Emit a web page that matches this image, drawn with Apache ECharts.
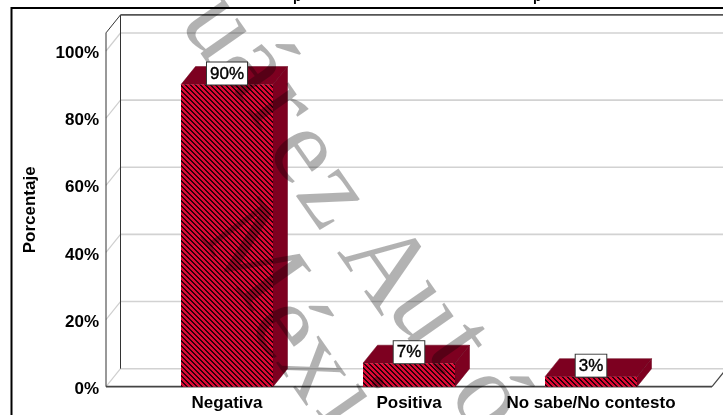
<!DOCTYPE html>
<html>
<head>
<meta charset="utf-8">
<style>html,body{margin:0;padding:0;background:#fff}#chart{width:723px;height:415px}</style>
<script src="https://cdn.jsdelivr.net/npm/echarts@6/dist/echarts.min.js"></script>
</head>
<body>
<div id="chart"></div>
<script>
// Survey shares, in percent
const categories = ['Negativa', 'Positiva', 'No sabe/No contesto'];
const values = [90, 7, 3];
const ticks = [0, 20, 40, 60, 80, 100];
const wallTopValue = 105.4;

// Pseudo-3D box geometry, in pixels
const depthX = 14.5, depthY = -18, barWidth = 92;
const wallLeft = 106, wallRight = 712, pageRight = 730;

// Hatched front face of the bars
const tile = document.createElement('canvas');
tile.width = tile.height = 5;
const tc = tile.getContext('2d');
for (let y = 0; y < 5; y++) for (let x = 0; x < 5; x++) {
  tc.fillStyle = ((x - y + 5) % 5) < 2 ? '#2a000c' : '#dc0a34';
  tc.fillRect(x, y, 1, 1);
}
const hatch = { image: tile, repeat: 'repeat' };

const line = (x1, y1, x2, y2, stroke, lineWidth) => ({
  type: 'line', shape: { x1, y1, x2, y2 }, style: { stroke, lineWidth }
});

// Back-wall gridline plus its diagonal on the side wall
function renderGridline(params, api) {
  const y = api.coord([0, api.value(0)])[1];
  const bottom = api.value(0) === 0;
  const children = [
    line(wallLeft + depthX, y + depthY, pageRight, y + depthY, '#d2d2d2', 1.6),
    line(wallLeft, y, wallLeft + depthX, y + depthY, '#cfcfcf', 1.2)
  ];
  if (bottom) {
    children.push(line(wallRight, y, wallRight + depthX, y + depthY, '#444', 1.2));
  }
  return { type: 'group', children };
}

// Wall outline and floor front edge
function renderWalls(params, api) {
  const top = api.coord([0, api.value(0)])[1];
  const base = api.coord([0, 0])[1];
  return {
    type: 'group',
    children: [
      line(wallLeft, top, wallLeft, base, '#333', 1),
      line(wallLeft + depthX, top + depthY, wallLeft + depthX, base + depthY, '#333', 1),
      line(wallLeft, top, wallLeft + depthX, top + depthY, '#333', 1),
      line(wallLeft + depthX, top + depthY, pageRight, top + depthY, '#555', 1.8),
      line(wallLeft, base, wallRight, base, '#444', 1.8)
    ]
  };
}

function renderBar(params, api) {
  const c = api.coord([api.value(0), api.value(1)]);
  const base = api.coord([0, 0])[1];
  const l = c[0] - barWidth / 2, r = c[0] + barWidth / 2, t = c[1];
  return {
    type: 'group',
    children: [
      { type: 'polygon', shape: { points: [[l, t], [l + depthX, t + depthY], [r + depthX, t + depthY], [r, t]] },
        style: { fill: '#7d0020', stroke: '#6a001a', lineWidth: 0.5 } },
      { type: 'polygon', shape: { points: [[r, t], [r + depthX, t + depthY], [r + depthX, base + depthY], [r, base]] },
        style: { fill: '#7d0020', stroke: '#6a001a', lineWidth: 0.5 } },
      { type: 'rect', shape: { x: l, y: t, width: barWidth, height: base - t },
        style: { fill: hatch } }
    ]
  };
}

function renderValueLabel(params, api) {
  const c = api.coord([api.value(0), api.value(1)]);
  return {
    type: 'text', x: c[0], y: c[1],
    style: {
      text: api.value(1) + '%', font: '17px "Liberation Sans"', fill: '#000',
      stroke: '#000', lineWidth: 0.4,
      align: 'center', verticalAlign: 'bottom',
      backgroundColor: '#fff', borderColor: '#333', borderWidth: 1, padding: [3, 3, 2, 3]
    }
  };
}

// Diagonal institutional stamp laid across the chart
const stampFont = '110px "Liberation Serif"';
const stampAngle = -55 * Math.PI / 180;
const stampGlyphs = [
  ['J', 165, -20], ['u', 218, 28], ['á', 253, 68], ['r', 280, 108], ['e', 303, 153], ['z', 332, 197],
  ['A', 383, 268], ['u', 425, 313], ['t', 457, 347], ['ó', 487, 400],
  ['M', 250, 258], ['é', 285, 328], ['x', 315, 368], ['i', 347, 405], ['c', 385, 445]
];
const stamp = stampGlyphs.map(([text, x, y]) => ({
  type: 'text', x, y, rotation: stampAngle, z: 5, silent: true,
  style: { text, font: stampFont, fill: '#000', opacity: 0.3, align: 'center', verticalAlign: 'middle' }
}));

// Title sits above the visible area, only its descenders reach it
const titleTail = [[293, -10], [533, -10]].map(([x, y]) => ({
  type: 'text', x, y, z: 6,
  style: { text: 'p', font: 'bold 14px "Liberation Sans"', fill: '#000' }
}));

const frame = {
  type: 'polyline', z: 6,
  shape: { points: [[11.5, 430], [11.5, 8], [730, 8]] },
  style: { fill: 'none', stroke: '#000', lineWidth: 2 }
};

echarts.init(document.getElementById('chart'), null, { renderer: 'canvas' }).setOption({
  animation: false,
  backgroundColor: '#fff',
  grid: { left: 136, width: 546, top: 51, bottom: 28.3, containLabel: false },
  xAxis: {
    type: 'category', data: categories,
    axisLine: { show: false }, axisTick: { show: false },
    axisLabel: { interval: 0, margin: 8, color: '#000', fontFamily: 'Liberation Sans', fontSize: 17, fontWeight: 'bold' }
  },
  yAxis: {
    type: 'value', min: 0, max: 100, interval: 20, offset: 30,
    name: 'Porcentaje', nameLocation: 'middle', nameGap: 67, nameRotate: 90,
    nameTextStyle: { color: '#000', fontFamily: 'Liberation Sans', fontSize: 17, fontWeight: 'bold', padding: [0, 0, 0, 18] },
    axisLine: { show: false }, axisTick: { show: false }, splitLine: { show: false },
    axisLabel: { margin: 7, color: '#000', formatter: '{value}%', fontFamily: 'Liberation Sans', fontSize: 17, fontWeight: 'bold', verticalAlign: 'top', lineHeight: 5 }
  },
  graphic: [frame, ...stamp, ...titleTail],
  series: [
    { type: 'custom', z: 1, renderItem: renderGridline, data: ticks, encode: { y: 0 }, silent: true },
    { type: 'custom', z: 2, renderItem: renderWalls, data: [wallTopValue], encode: { y: 0 }, silent: true },
    { type: 'custom', z: 3, renderItem: renderBar, data: values.map((v, i) => [i, v]), encode: { x: 0, y: 1 }, silent: true },
    { type: 'custom', z: 10, renderItem: renderValueLabel, data: values.map((v, i) => [i, v]), encode: { x: 0, y: 1 }, silent: true }
  ]
});
</script>
</body>
</html>
